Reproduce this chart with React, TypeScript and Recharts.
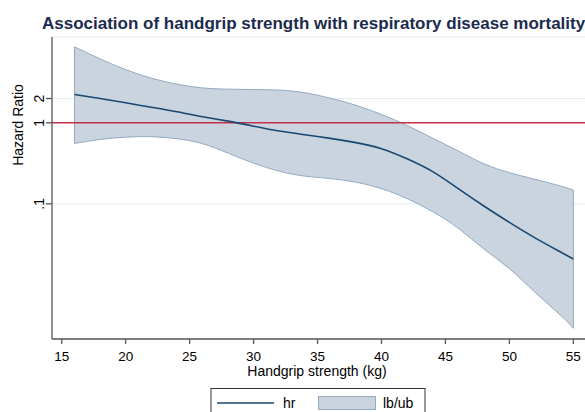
import { Area, CartesianGrid, ComposedChart, Line, ReferenceLine, XAxis, YAxis } from "recharts";

const FONT = "'Liberation Sans', Arial, sans-serif";

// handgrip strength (kg)
const grip = [16, 18, 20, 22, 24, 26, 28, 30, 32, 34, 36, 38, 40, 42, 44, 46, 48, 50, 52, 54, 55];
// hazard ratio
const hr = [2.24, 2.0, 1.77, 1.56, 1.37, 1.19, 1.05, 0.91, 0.792, 0.715, 0.644, 0.57, 0.48, 0.36, 0.25, 0.154, 0.094, 0.059, 0.038, 0.0254, 0.0208];
// 95% CI
const lb = [0.557, 0.624, 0.666, 0.676, 0.638, 0.554, 0.423, 0.318, 0.253, 0.22, 0.205, 0.185, 0.154, 0.116, 0.08, 0.05, 0.0277, 0.0158, 0.0081, 0.0042, 0.0029];
const ub = [8.68, 6.17, 4.55, 3.57, 3.01, 2.7, 2.61, 2.58, 2.54, 2.36, 2.02, 1.65, 1.27, 0.93, 0.647, 0.45, 0.313, 0.243, 0.201, 0.166, 0.148];

const xTicks = [15, 20, 25, 30, 35, 40, 45, 50, 55];
const yTicks = [0.1, 1, 2];
const yTickLabels: Record<string, string> = { "0.1": ".1", "1": "1", "2": "2" };

const data = grip.map((x, i) => ({ x, hr: hr[i], band: [lb[i], ub[i]] }));
const last = grip.length - 1;

const YTick = (props: any) => {
  const { x, y, payload } = props;
  return (
    <text
      x={x}
      y={y}
      transform={`rotate(-90 ${x} ${y})`}
      textAnchor="middle"
      fontSize={14}
      fontFamily={FONT}
      fill="#000"
    >
      {yTickLabels[String(payload.value)]}
    </text>
  );
};

export default function App() {
  return (
    <div style={{ position: "absolute", left: 0, top: 0, width: 585, height: 412, background: "#fff" }}>
      <ComposedChart width={585} height={412} data={data} margin={{ top: 37, right: 0, left: 0, bottom: 43 }}>
        <CartesianGrid horizontal vertical={false} stroke="#e3edf1" strokeWidth={1} />
        <XAxis
          dataKey="x"
          type="number"
          domain={[14.24, 55.91]}
          allowDataOverflow
          ticks={xTicks}
          height={30}
          tickSize={5}
          tickMargin={7}
          stroke="#555"
          strokeWidth={1.3}
          tick={{ fill: "#000", fontSize: 13.5, fontFamily: FONT }}
        />
        <YAxis
          scale="log"
          type="number"
          domain={[0.00214, 11.5]}
          allowDataOverflow
          ticks={yTicks}
          width={52}
          tickSize={6}
          tickMargin={2}
          stroke="#555"
          strokeWidth={1.3}
          tick={<YTick />}
        />
        <Area
          dataKey="band"
          type="natural"
          fill="#c9d4df"
          fillOpacity={1}
          stroke="#94aac1"
          strokeWidth={1}
          isAnimationActive={false}
        />
        <ReferenceLine
          segment={[{ x: grip[0], y: lb[0] }, { x: grip[0], y: ub[0] }]}
          stroke="#94aac1"
          strokeWidth={1}
        />
        <ReferenceLine
          segment={[{ x: grip[last], y: lb[last] }, { x: grip[last], y: ub[last] }]}
          stroke="#94aac1"
          strokeWidth={1}
        />
        <ReferenceLine y={1} stroke="#c4304c" strokeWidth={1.5} />
        <Line
          dataKey="hr"
          type="natural"
          stroke="#1a476f"
          strokeWidth={1.6}
          dot={false}
          isAnimationActive={false}
        />
      </ComposedChart>
      <svg
        width={585}
        height={412}
        style={{ position: "absolute", left: 0, top: 0, pointerEvents: "none" }}
        fontFamily={FONT}
      >
        <text x={42} y={29} fontSize={17} fontWeight="bold" fill="#1c2b4d">
          Association of handgrip strength with respiratory disease mortality
        </text>
        <text x={23} y={125} fontSize={14} fill="#000" textAnchor="middle" transform="rotate(-90 23 125)">
          Hazard Ratio
        </text>
        <text x={317} y={376} fontSize={14} fill="#000" textAnchor="middle">
          Handgrip strength (kg)
        </text>
        <rect x={211} y={388.5} width={214} height={40} fill="#fff" stroke="#333" strokeWidth={1} />
        <line x1={217} y1={403} x2={274} y2={403} stroke="#1a476f" strokeWidth={1.6} />
        <text x={283} y={408} fontSize={14} fill="#000">hr</text>
        <rect x={318.5} y={396.5} width={57} height={13} fill="#c9d4df" stroke="#94aac1" strokeWidth={1} />
        <text x={383} y={408} fontSize={14} fill="#000">lb/ub</text>
      </svg>
    </div>
  );
}
